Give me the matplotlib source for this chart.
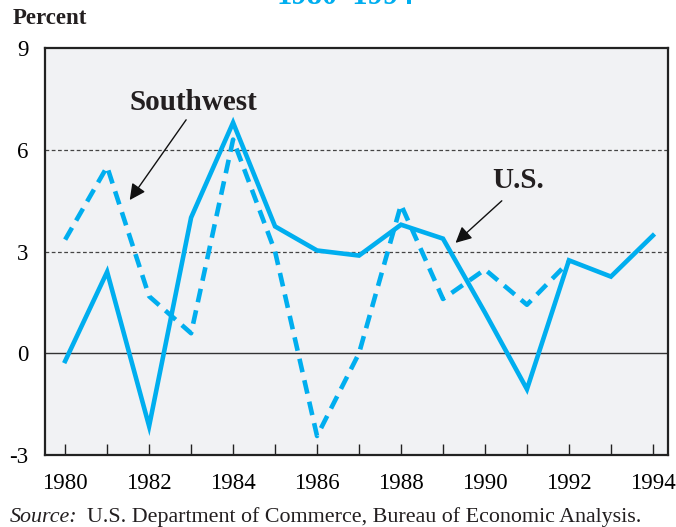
import matplotlib
matplotlib.use("Agg")
import matplotlib.pyplot as plt

years_us = [1980, 1981, 1982, 1983, 1984, 1985, 1986, 1987, 1988, 1989, 1990, 1991, 1992, 1993, 1994]
us = [-0.23, 2.4, -2.15, 4.0, 6.8, 3.74, 3.03, 2.88, 3.79, 3.38, 1.2, -1.06, 2.74, 2.26, 3.47]
years_sw = [1980, 1981, 1982, 1983, 1984, 1985, 1986, 1987, 1988, 1989, 1990, 1991, 1992]
sw = [3.35, 5.5, 1.68, 0.59, 6.3, 3.0, -2.44, 0.0, 4.38, 1.6, 2.47, 1.43, 2.7]
yticks = [-3, 0, 3, 6, 9]
xlabels = [1980, 1982, 1984, 1986, 1988, 1990, 1992, 1994]

plt.rcParams['font.family'] = ['Liberation Serif', 'DejaVu Serif']
blue = '#00AEEF'

fig = plt.figure(figsize=(6.76, 5.27), dpi=100)
ax = fig.add_axes([45/676, 1-455/527, (668-45)/676, (455-48)/527])
ax.set_facecolor('#F1F2F4')

ax.axhline(0, color='#333333', lw=1.0, zorder=1)
for g in (3, 6):
    ax.axhline(g, color='#444444', lw=0.9, ls=(0, (3, 2)), zorder=1)

ax.plot(years_sw, sw, color=blue, lw=3.3, ls=(0, (3.0, 1.8)), zorder=3)
ax.plot(years_us, us, color=blue, lw=3.3, zorder=4, solid_joinstyle='miter')

ax.set_xlim(1979.52, 1994.36)
ax.set_ylim(-3, 9)
ax.set_yticks(yticks)
ax.set_yticklabels([str(v) for v in yticks], fontsize=16.5)
ax.tick_params(axis='y', length=0, pad=12)
ax.set_xticks(list(range(1980, 1995)))
ax.set_xticklabels([str(y) if y in xlabels else '' for y in range(1980, 1995)], fontsize=16.5)
ax.tick_params(axis='x', direction='in', length=8, width=1, color='#222222', pad=13)
for s in ax.spines.values():
    s.set_linewidth(1.6)
    s.set_color('#222222')

ax.annotate('', xy=(1981.5, 4.45), xytext=(1982.92, 6.95),
            arrowprops=dict(arrowstyle='-|>', color='#111111', lw=1.0, mutation_scale=24))
ax.text(1983.05, 7.4, 'Southwest', fontsize=21, fontweight='bold', ha='center', va='center', color='#231F20')
ax.annotate('', xy=(1989.25, 3.2), xytext=(1990.45, 4.55),
            arrowprops=dict(arrowstyle='-|>', color='#111111', lw=1.0, mutation_scale=24))
ax.text(1990.8, 5.1, 'U.S.', fontsize=21, fontweight='bold', ha='center', va='center', color='#231F20')

fig.text(13/676, 1-18/527, 'Percent', fontsize=16.5, fontweight='bold', ha='left', va='center', color='#231F20')
fig.text(345/676, 1+3/527, '1980–1994', fontsize=22, fontweight='bold', ha='center', va='center', color=blue)
fig.text(10/676, 1-517/527, 'Source:', fontsize=15.8, fontstyle='italic', ha='left', va='center', color='#231F20')
fig.text(87/676, 1-517/527, 'U.S. Department of Commerce, Bureau of Economic Analysis.', fontsize=15.8, ha='left', va='center', color='#231F20')

fig.savefig('out.png', dpi=100)
